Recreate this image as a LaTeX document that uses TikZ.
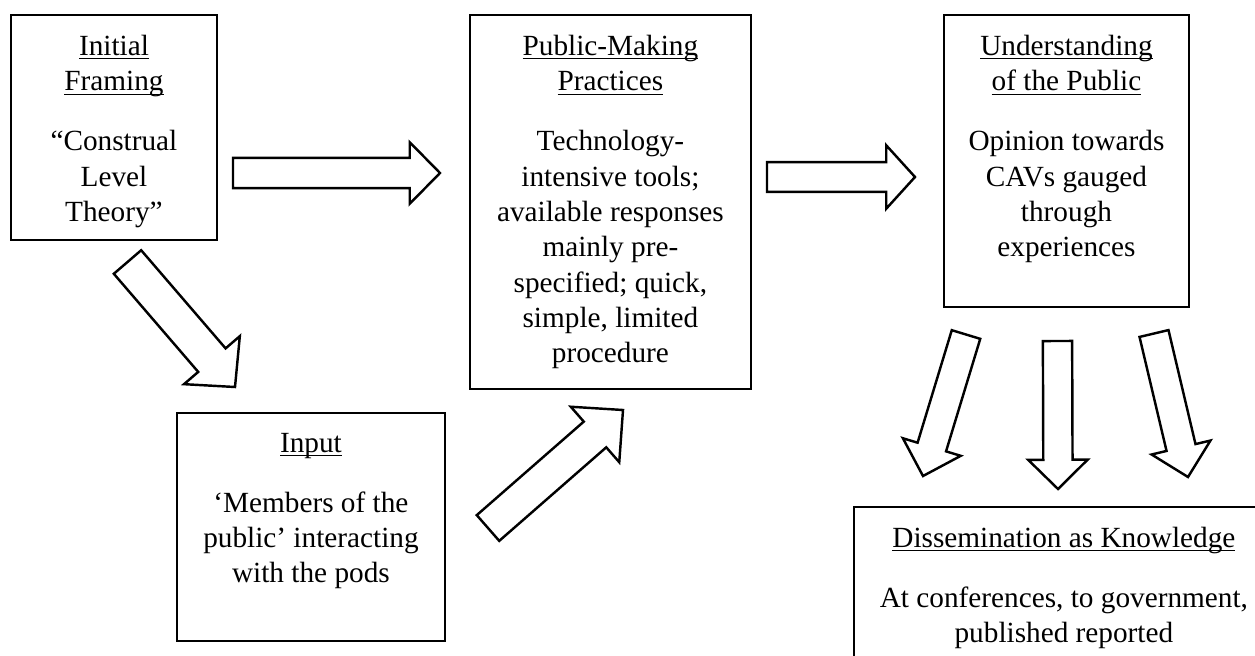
\documentclass[tikz,border=0pt]{standalone}
\usepackage{fontspec}
\setmainfont{Liberation Serif}
\usetikzlibrary{positioning,calc}

% underline that ignores descenders
\newcommand{\ulined}[1]{\underline{\raisebox{0pt}[\height][0pt]{#1}}}

\tikzset{
  panel/.style={draw, line width=0.75pt, anchor=north west, inner sep=0pt},
  paneltext/.style={align=center, inner sep=0pt, font=\fontsize{12}{14.5}\selectfont},
  blockarrow/.style={draw, line width=1pt, line join=miter, fill=white},
}

% tail, tip, shaft half-width, head half-width, head length (all in pt)
\newcommand{\blockarrow}[5]{%
  \draw[blockarrow] let \p1=($(#2)-(#1)$), \n1={atan2(\y1,\x1)}, \n2={veclen(\x1,\y1)} in
    ($(#1)+({\n1+90}:#3pt)$)
    -- ($(#1)+({\n1}:{(\n2-#5)*1pt})+({\n1+90}:#3pt)$)
    -- ($(#1)+({\n1}:{(\n2-#5)*1pt})+({\n1+90}:#4pt)$)
    -- (#2)
    -- ($(#1)+({\n1}:{(\n2-#5)*1pt})+({\n1-90}:#4pt)$)
    -- ($(#1)+({\n1}:{(\n2-#5)*1pt})+({\n1-90}:#3pt)$)
    -- ($(#1)+({\n1-90}:#3pt)$) -- cycle;
}

\begin{document}
\begin{tikzpicture}[x=0.41pt, y=-0.41pt]
  \useasboundingbox (0,0) rectangle (1255,655);
  \clip (0,0) rectangle (1255,655);

  % boxes
  \node[panel, minimum width=84.5pt, minimum height=92.3pt] (framing) at (10,14) {};
  \node[panel, minimum width=115.2pt, minimum height=153.3pt] (practices) at (469,14) {};
  \node[panel, minimum width=100.5pt, minimum height=119.7pt] (understanding) at (943,14) {};
  \node[panel, minimum width=109.9pt, minimum height=93.5pt] (input) at (176,412) {};
  \node[panel, minimum width=172.2pt, minimum height=79.5pt] (dissemination) at (853,506) {};

  % texts
  \node[paneltext, below=8.5pt of framing.north] (framingtxt)
    {\ulined{Initial}\\\ulined{Framing}\\[10pt]“Construal\\Level\\Theory”};
  \node[paneltext, below=8.5pt of practices.north] (practicestxt)
    {\ulined{Public-Making}\\\ulined{Practices}\\[10pt]Technology-\\intensive tools;\\available responses\\mainly pre-\\specified; quick,\\simple, limited\\procedure};
  \node[paneltext, below=8.5pt of understanding.north] (understandingtxt)
    {\ulined{Understanding}\\\ulined{of the Public}\\[10pt]Opinion towards\\CAVs gauged\\through\\experiences};
  \node[paneltext, below=8.5pt of input.north] (inputtxt)
    {\ulined{Input}\\[10pt]‘Members of the\\public’ interacting\\with the pods};
  \node[paneltext, below=8.5pt of dissemination.north] (disseminationtxt)
    {\ulined{Dissemination as Knowledge}\\[10pt]At conferences, to government,\\published reported};

  % arrow ends
  \coordinate (a1tail) at (233,173);   \coordinate (a1tip) at (440,173);
  \coordinate (a2tail) at (767,177);   \coordinate (a2tip) at (915,177);
  \coordinate (a3tail) at (127.5,262); \coordinate (a3tip) at (235,387);
  \coordinate (a4tail) at (488,528);   \coordinate (a4tip) at (623,410);
  \coordinate (a5tail) at (966,334.5); \coordinate (a5tip) at (923,476);
  \coordinate (a6tail) at (1057.5,341);\coordinate (a6tip) at (1058,489);
  \coordinate (a7tail) at (1154,333.5);\coordinate (a7tip) at (1188,477);

  \blockarrow{a1tail}{a1tip}{6.2}{12.6}{12.4}
  \blockarrow{a2tail}{a2tip}{6.1}{13}{11.8}
  \blockarrow{a3tail}{a3tip}{7.4}{15.1}{14.5}
  \blockarrow{a4tail}{a4tip}{7}{15.1}{15.1}
  \blockarrow{a5tail}{a5tip}{6.1}{12.4}{12.4}
  \blockarrow{a6tail}{a6tip}{6}{12.2}{12}
  \blockarrow{a7tail}{a7tip}{6.1}{12.4}{12.4}
\end{tikzpicture}
\end{document}
